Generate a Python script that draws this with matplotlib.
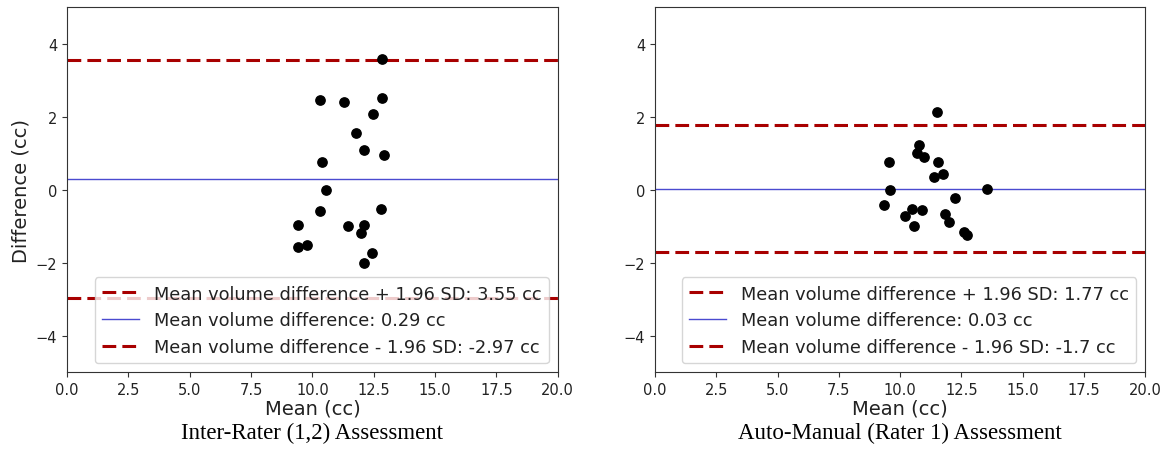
import matplotlib
matplotlib.use("Agg")
import matplotlib.pyplot as plt
import numpy as np

# Inter-Rater (1,2)
mean1 = [12.82, 10.29, 11.28, 12.82, 12.48, 11.76, 12.11, 12.93, 10.39, 10.55,
         10.29, 12.78, 9.40, 11.47, 12.10, 11.98, 9.40, 9.79, 12.41, 12.09]
diff1 = [3.59, 2.45, 2.40, 2.50, 2.07, 1.55, 1.09, 0.95, 0.75, 0.00,
         -0.58, -0.52, -0.97, -0.98, -0.97, -1.18, -1.58, -1.50, -1.72, -2.00]
md1, up1, lo1 = 0.29, 3.55, -2.97

# Auto-Manual (Rater 1)
mean2 = [11.51, 10.79, 10.67, 10.98, 9.55, 11.55, 11.77, 11.37, 9.59, 13.54,
         12.24, 9.35, 10.48, 10.90, 10.20, 11.85, 12.00, 10.57, 12.61, 12.75]
diff2 = [2.12, 1.23, 1.01, 0.90, 0.75, 0.77, 0.44, 0.35, 0.00, 0.02,
         -0.23, -0.41, -0.52, -0.55, -0.72, -0.67, -0.87, -0.98, -1.15, -1.25]
md2, up2, lo2 = 0.03, 1.77, -1.7

captions = ["Inter-Rater (1,2) Assessment", "Auto-Manual (Rater 1) Assessment"]

fig = plt.figure(figsize=(11.74, 4.52), dpi=100)
ax1 = fig.add_axes([0.0571, 0.174, 0.418, 0.808])
ax2 = fig.add_axes([0.558, 0.174, 0.4174, 0.808])

for ax, m, d, md, up, lo, cap, ylab in [
        (ax1, mean1, diff1, md1, up1, lo1, captions[0], True),
        (ax2, mean2, diff2, md2, up2, lo2, captions[1], False)]:
    ax.scatter(m, d, color="black", s=45, zorder=3)
    ax.axhline(up, color="#a80000", linestyle=(0, (4.5, 2)), linewidth=2.2,
               label=f"Mean volume difference + 1.96 SD: {up} cc")
    ax.axhline(md, color="#4a4ad0", linewidth=1,
               label=f"Mean volume difference: {md} cc")
    ax.axhline(lo, color="#a80000", linestyle=(0, (4.5, 2)), linewidth=2.2,
               label=f"Mean volume difference - 1.96 SD: {lo} cc")
    ax.set_xlim(0, 20)
    ax.set_ylim(-5, 5)
    ax.set_yticks([-4, -2, 0, 2, 4])
    ax.tick_params(labelsize=10.5, colors="#333333", labelcolor="#222222")
    for s in ax.spines.values():
        s.set_color("#333333")
    ax.set_xlabel("Mean (cc)", fontsize=14, labelpad=1, color="#222222")
    if ylab:
        ax.set_ylabel("Difference (cc)", fontsize=14, color="#222222")
    leg = ax.legend(loc="lower right", fontsize=12.8, handlelength=2.1,
                    labelspacing=0.5, borderaxespad=0.5, handletextpad=0.85)
    for t in leg.get_texts():
        t.set_color("#222222")
    pos = ax.get_position()
    fig.text(pos.x0 + pos.width / 2, 0.042, cap, ha="center", va="center",
             fontsize=16.5, family="Liberation Serif")

fig.savefig("out.png", dpi=100)
